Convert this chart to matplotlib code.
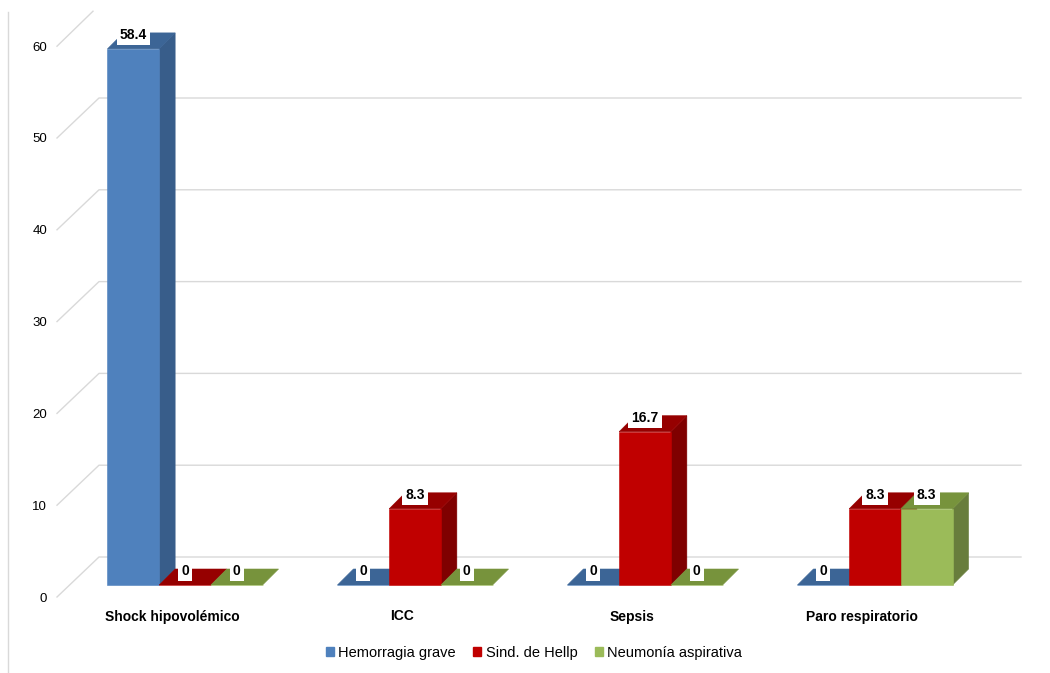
import matplotlib
matplotlib.use('Agg')
import matplotlib.pyplot as plt
from matplotlib.patches import Polygon, Patch
from matplotlib.transforms import Affine2D
from matplotlib.lines import Line2D

# ---------------- data ----------------
categories = ['Shock hipovolémico', 'ICC', 'Sepsis', 'Paro respiratorio']
series_names = ['Hemorragia grave', 'Sind. de Hellp', 'Neumonía aspirativa']
hemorragia = [58.4, 0, 0, 0]
hellp = [0, 8.3, 16.7, 8.3]
neumonia = [0, 0, 0, 8.3]
y_ticks = [0, 10, 20, 30, 40, 50, 60]

# ---------------- style ----------------
front_colors = ['#4F81BD', '#C00000', '#9BBB59']
side_colors = ['#385D8A', '#7F0000', '#687D3C']
top_colors = ['#3C6596', '#960000', '#77933C']
grid_color = '#D9D9D9'
FONT = 'Liberation Sans'

W, H = 1050, 673
fig = plt.figure(figsize=(W / 100, H / 100), dpi=100)
ax = fig.add_axes([57 / W, (H - 597) / H, 920 / W, 550.8 / H])
ax.set_xlim(-0.5, 3.5)
ax.set_ylim(0, 60)
for s in ax.spines.values():
    s.set_visible(False)

fig.canvas.draw()
p0 = ax.transData.transform((0, 0))
p1 = ax.transData.transform((1, 1))
px_x = p1[0] - p0[0]   # pixels per x unit
px_y = p1[1] - p0[1]   # pixels per y unit


def off(dx, dy):
    return ax.transData + Affine2D().translate(dx, dy)


# back wall gridlines (front-left diagonal + horizontal on back plane)
wall_dx, wall_dy = 42 / px_x, 40 / px_y
for v in y_ticks:
    if v == y_ticks[-1]:
        ax.plot([-0.5, -0.5 + 36 / px_x], [v, v + 35 / px_y], color=grid_color,
                lw=1, zorder=0, clip_on=False)
        continue
    ax.plot([-0.5, -0.5 + wall_dx, 3.5 + wall_dx + 2 / px_x],
            [v, v + wall_dy, v + wall_dy], color=grid_color, lw=1,
            zorder=0, clip_on=False)

# bars (pseudo 3D)
series = [hemorragia, hellp, neumonia]
bw = 51.7 / px_x                 # bar width in data units
ddx, ddy = 16 / px_x, 16 / px_y  # bar depth in data units
plane = off(13, 12)              # bar front plane, behind the floor front
xs = list(range(len(categories)))

for j, vals in enumerate(series):
    xpos = [x + (j - 1) * bw for x in xs]
    zb = 2 + j * 3
    for x, v in zip(xpos, vals):
        xl, xr = x - bw / 2, x + bw / 2
        # side face
        if v > 0:
            side = Polygon([(xr, 0), (xr + ddx, ddy), (xr + ddx, v + ddy), (xr, v)],
                           closed=True, facecolor=side_colors[j],
                           edgecolor=side_colors[j], lw=0.4, transform=plane,
                           zorder=zb, clip_on=False)
            ax.add_patch(side)
        # top face
        top = Polygon([(xl, v), (xr, v), (xr + ddx, v + ddy), (xl + ddx, v + ddy)],
                      closed=True, facecolor=top_colors[j], edgecolor=top_colors[j],
                      lw=0.4, transform=plane, zorder=zb + 1, clip_on=False)
        ax.add_patch(top)
    ax.bar(xpos, vals, width=bw, color=front_colors[j], edgecolor=front_colors[j],
           lw=0.4, transform=plane, zorder=zb + 2, clip_on=False)
    for x, v in zip(xpos, vals):
        ax.text(x, v, f'{v:g}', transform=off(13, 22), ha='center', va='baseline',
                fontsize=10, fontweight='bold', family=FONT, color='black',
                zorder=30, clip_on=False,
                bbox=dict(boxstyle='square,pad=0.22', fc='white', ec='none'))

# axes ticks
ax.set_yticks(y_ticks)
ax.set_yticklabels([str(t) for t in y_ticks], family=FONT, fontsize=9.5)
ax.tick_params(axis='y', length=0, pad=7)
ax.set_xticks(xs)
ax.set_xticklabels(categories, family=FONT, fontsize=10, fontweight='bold')
ax.tick_params(axis='x', length=0, pad=9)

# left frame line
fig.add_artist(Line2D([7.5 / W, 7.5 / W], [0, 1 - 12 / H], color=grid_color,
                      lw=1, transform=fig.transFigure))

# legend
handles = [Patch(facecolor=c, edgecolor=c) for c in front_colors]
fig.legend(handles, series_names, loc='center', bbox_to_anchor=(534 / W, 1 - 653 / H),
           ncol=3, frameon=False, handlelength=0.55, handleheight=0.55,
           handletextpad=0.3, columnspacing=1.2,
           prop=dict(family=FONT, size=10.5))

fig.savefig('out.png', dpi=100, facecolor='white')
